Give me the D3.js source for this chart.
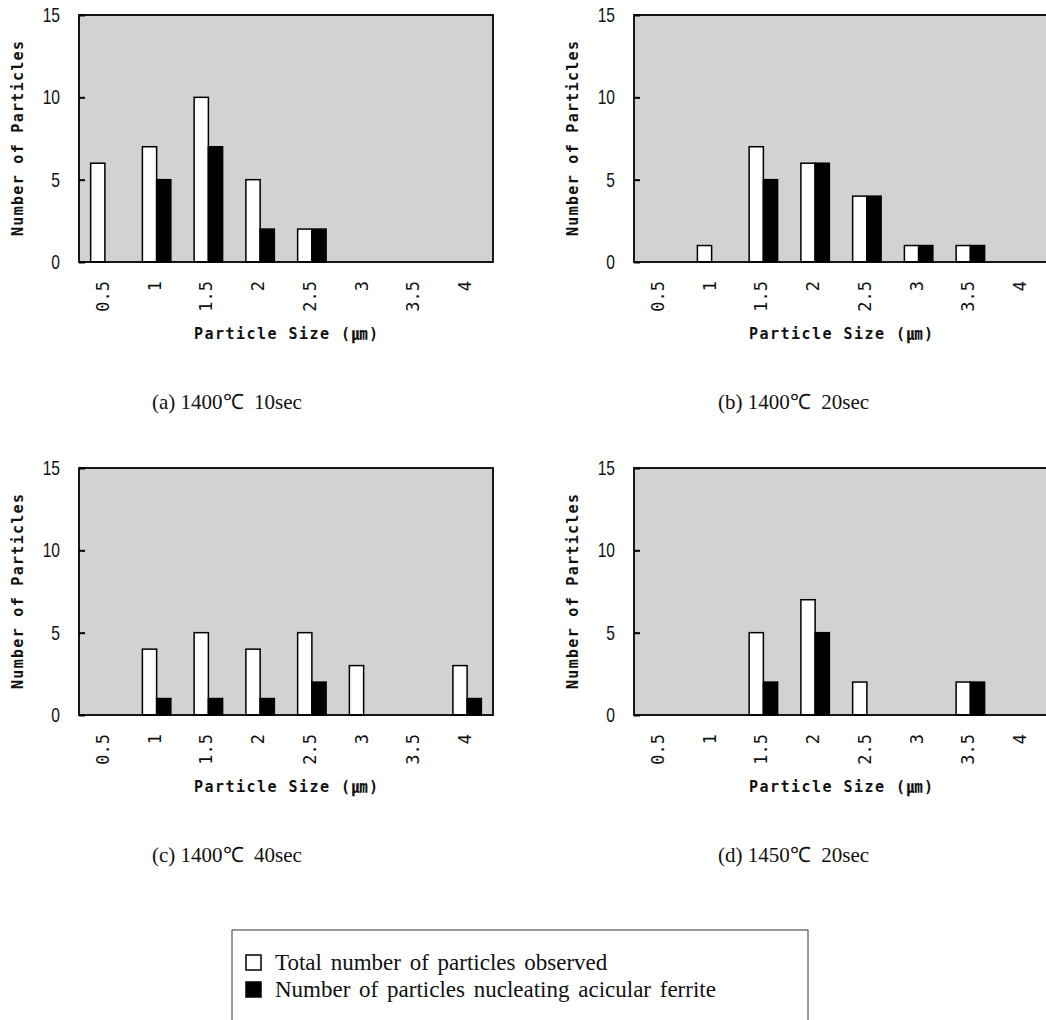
<!DOCTYPE html>
<html>
<head>
<meta charset="utf-8">
<script src="https://cdn.jsdelivr.net/npm/d3@7"></script>
<style>
  body { margin: 0; background: #fff; }
  .mono { font-family: "DejaVu Sans Mono", monospace; }
  .serif { font-family: "Liberation Serif", "Times New Roman", serif; }
</style>
</head>
<body>
<svg class="chart" width="1046" height="1020"></svg>
<script>
const sizes = ["0.5", "1", "1.5", "2", "2.5", "3", "3.5", "4"];
const yTicks = [0, 5, 10, 15];

// (a) 1400C 10sec
const totalA = [6, 7, 10, 5, 2, 0, 0, 0];
const nucleA = [0, 5, 7, 2, 2, 0, 0, 0];
// (b) 1400C 20sec
const totalB = [0, 1, 7, 6, 4, 1, 1, 0];
const nucleB = [0, 0, 5, 6, 4, 1, 1, 0];
// (c) 1400C 40sec
const totalC = [0, 4, 5, 4, 5, 3, 0, 3];
const nucleC = [0, 1, 1, 1, 2, 0, 0, 1];
// (d) 1450C 20sec
const totalD = [0, 0, 5, 7, 2, 0, 2, 0];
const nucleD = [0, 0, 2, 5, 0, 0, 2, 0];

const captions = ["(a) 1400℃  10sec", "(b) 1400℃  20sec", "(c) 1400℃  40sec", "(d) 1450℃  20sec"];
const legendLabels = ["Total number of particles observed", "Number of particles nucleating acicular ferrite"];

const svg = d3.select("svg.chart");
const pw = 414, ph = 247;

const panels = [
    {left: 79, top: 15, total: totalA, nucle: nucleA, cap: captions[0], capX: 152},
    {left: 634, top: 15, total: totalB, nucle: nucleB, cap: captions[1], capX: 718},
    {left: 79, top: 468, total: totalC, nucle: nucleC, cap: captions[2], capX: 152},
    {left: 634, top: 468, total: totalD, nucle: nucleD, cap: captions[3], capX: 718}
];

function drawPanel(p) {
    let g = svg.append("g").attr("transform", "translate(" + p.left + "," + p.top + ")");

    let x = d3.scaleBand().domain(sizes).range([0, pw])
        .paddingInner(0.45).paddingOuter(0.225);
    let xSub = d3.scaleBand().domain(["total", "nucle"]).range([0, x.bandwidth()]);
    let y = d3.scaleLinear().domain([0, 15]).range([ph, 0]);

    g.append("rect")
        .attr("width", pw).attr("height", ph)
        .attr("fill", "#d2d2d2");

    let rows = sizes.map((s, i) => ({size: s, total: p.total[i], nucle: p.nucle[i]}));

    g.selectAll(".bar-total")
        .data(rows.filter(d => d.total > 0))
        .join("rect")
        .attr("class", "bar-total")
        .attr("x", d => x(d.size) + xSub("total"))
        .attr("y", d => y(d.total))
        .attr("width", xSub.bandwidth())
        .attr("height", d => ph - y(d.total))
        .attr("fill", "#fff")
        .attr("stroke", "#000")
        .attr("stroke-width", 1.5);

    g.selectAll(".bar-nucle")
        .data(rows.filter(d => d.nucle > 0))
        .join("rect")
        .attr("class", "bar-nucle")
        .attr("x", d => x(d.size) + xSub("nucle"))
        .attr("y", d => y(d.nucle))
        .attr("width", xSub.bandwidth())
        .attr("height", d => ph - y(d.nucle))
        .attr("fill", "#000")
        .attr("stroke", "#000")
        .attr("stroke-width", 1.5);

    // frame
    g.append("rect")
        .attr("width", pw).attr("height", ph)
        .attr("fill", "none")
        .attr("stroke", "#000")
        .attr("stroke-width", 1.8);

    // y axis: short inner ticks, narrow digits outside
    let yAxis = g.append("g")
        .call(d3.axisLeft(y).tickValues(yTicks).tickSizeInner(-6).tickSizeOuter(0).tickPadding(19));
    yAxis.select(".domain").remove();
    yAxis.selectAll("line").attr("stroke", "#000").attr("stroke-width", 2);
    yAxis.selectAll("text")
        .attr("x", null)
        .attr("transform", "translate(-19,0) scale(0.78,1)")
        .attr("fill", "#111")
        .style("font-family", "Liberation Sans, Arial, sans-serif")
        .style("font-size", "20px");

    // x axis: rotated labels, no ticks
    let xAxis = g.append("g")
        .attr("transform", "translate(0," + ph + ")")
        .call(d3.axisBottom(x).tickSize(0).tickPadding(0));
    xAxis.select(".domain").remove();
    xAxis.selectAll("text")
        .attr("class", "mono")
        .attr("y", 0)
        .attr("transform", "translate(-2,19) rotate(-90)")
        .attr("dy", "0.35em")
        .style("text-anchor", "end")
        .style("font-size", "17px")
        .attr("fill", "#111");

    g.append("text")
        .attr("class", "mono")
        .attr("transform", "translate(-61," + (ph / 2) + ") rotate(-90)")
        .attr("dy", "0.35em")
        .attr("text-anchor", "middle")
        .attr("textLength", 195)
        .attr("lengthAdjust", "spacing")
        .style("font-size", "15px")
        .style("font-weight", "bold")
        .attr("fill", "#111")
        .text("Number of Particles");

    let xt = g.append("text")
        .attr("class", "mono")
        .attr("x", pw / 2)
        .attr("y", ph + 77)
        .attr("text-anchor", "middle")
        .attr("textLength", 184)
        .attr("lengthAdjust", "spacing")
        .style("font-size", "15px")
        .style("font-weight", "bold")
        .attr("fill", "#111");
    xt.append("tspan").text("Particle Size (");
    xt.append("tspan")
        .style("font-family", "'Noto Sans CJK KR', sans-serif")
        .style("font-size", "16px")
        .text("㎛");
    xt.append("tspan").text(")");

    svg.append("text")
        .attr("class", "serif")
        .attr("x", p.capX)
        .attr("y", p.top + ph + 147)
        .style("font-size", "21px")
        .style("white-space", "pre")
        .attr("fill", "#111")
        .text(p.cap);
}

panels.forEach(drawPanel);

// legend
let lg = svg.append("g");
lg.append("path")
    .attr("d", "M232,1020V930H808V1020")
    .attr("fill", "none")
    .attr("stroke", "#333")
    .attr("stroke-width", 1);

legendLabels.forEach((lab, i) => {
    let yy = 955 + i * 27;
    lg.append("rect")
        .attr("x", 246).attr("y", yy)
        .attr("width", 15).attr("height", 15)
        .attr("fill", i === 0 ? "#fff" : "#000")
        .attr("stroke", "#000")
        .attr("stroke-width", 1.5);
    lg.append("text")
        .attr("class", "serif")
        .attr("x", 275)
        .attr("y", yy + 15)
        .style("font-size", "23px")
        .style("word-spacing", "3px")
        .attr("fill", "#111")
        .text(lab);
});
</script>
</body>
</html>
